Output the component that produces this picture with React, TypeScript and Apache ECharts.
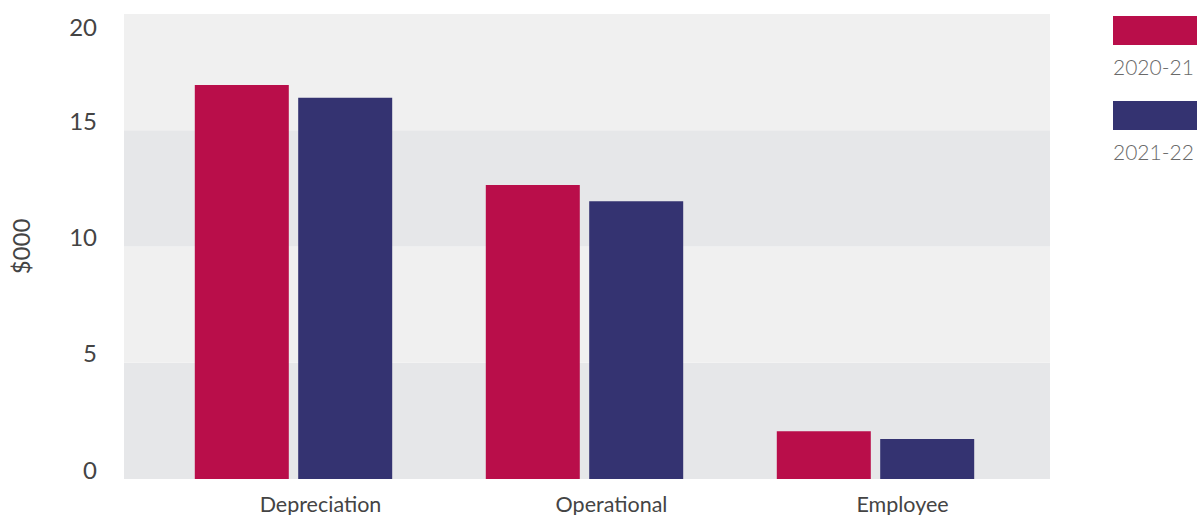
import React, { useEffect, useRef } from "react";
import * as echarts from "echarts";

const categories = ["Depreciation", "Operational", "Employee"];
const seriesNames = ["2020-21", "2021-22"];
const values2021 = [16.95, 12.65, 2.05];
const values2122 = [16.4, 11.95, 1.72];
const yTicks = [0, 5, 10, 15, 20];

const RED = "#b90e4a";
const BLUE = "#343371";

export default function App() {
  const ref = useRef<HTMLDivElement>(null);
  useEffect(() => {
    document.body.style.margin = "0";
    if (!ref.current) return;
    const chart = echarts.init(ref.current, null, { renderer: "svg" });
    const font = "Lato, 'Noto Sans', sans-serif";
    chart.setOption({
      animation: false,
      textStyle: { fontFamily: font },
      grid: [
        { left: 124, width: 926, top: 14, height: 465, containLabel: false },
        { left: 148, width: 873, top: 14, height: 465, containLabel: false },
      ],
      xAxis: [
        {
          gridIndex: 0,
          type: "category",
          data: categories,
          show: false,
        },
        {
          gridIndex: 1,
          type: "category",
          data: categories,
          axisLine: { show: false },
          axisTick: { show: false },
          axisLabel: {
            color: "#444",
            fontSize: 21.5,
            lineHeight: 18,
            fontFamily: font,
            margin: 15.5,
            padding: [0, 0, 0, 54],
          },
        },
      ],
      yAxis: [
        {
          gridIndex: 0,
          type: "value",
          min: yTicks[0],
          max: yTicks[yTicks.length - 1],
          interval: 5,
          name: "$000",
          nameLocation: "middle",
          nameRotate: 90,
          nameGap: 92,
          nameTextStyle: { color: "#444", fontSize: 24, fontFamily: font },
          axisLine: { show: false },
          axisTick: { show: false },
          splitLine: { show: false },
          splitArea: { show: true, areaStyle: { color: ["#e6e7e9", "#f0f0f0"] } },
          axisLabel: {
            color: "#444",
            fontSize: 24,
            fontFamily: font,
            margin: 27,
            verticalAlign: "bottom",
            padding: [0, 0, -2, 0],
            formatter: (v: number) => (v === 20 ? "" : String(v)),
          },
        },
        {
          gridIndex: 1,
          type: "value",
          min: yTicks[0],
          max: yTicks[yTicks.length - 1],
          interval: 5,
          show: false,
        },
      ],
      series: [
        {
          name: seriesNames[0],
          type: "bar",
          xAxisIndex: 1,
          yAxisIndex: 1,
          data: values2021,
          barWidth: 94,
          barGap: "10%",
          itemStyle: { color: RED },
        },
        {
          name: seriesNames[1],
          type: "bar",
          xAxisIndex: 1,
          yAxisIndex: 1,
          data: values2122,
          barWidth: 94,
          barGap: "10%",
          itemStyle: { color: BLUE },
        },
      ],
      graphic: [
        {
          type: "text",
          right: 1197 - 97,
          top: 14,
          style: { text: "20", fill: "#444", font: `24px ${font}`, textAlign: "right" },
        },
        { type: "rect", left: 1113, top: 16, shape: { width: 90, height: 29 }, style: { fill: RED } },
        {
          type: "text",
          left: 1113,
          top: 56,
          style: { text: seriesNames[0], fill: "#6a6a6a", font: `300 21px ${font}` },
        },
        { type: "rect", left: 1113, top: 101, shape: { width: 90, height: 29 }, style: { fill: BLUE } },
        {
          type: "text",
          left: 1113,
          top: 141,
          style: { text: seriesNames[1], fill: "#6a6a6a", font: `300 21px ${font}` },
        },
      ],
    });
    return () => chart.dispose();
  }, []);
  return <div ref={ref} style={{ width: 1197, height: 515 }} />;
}
